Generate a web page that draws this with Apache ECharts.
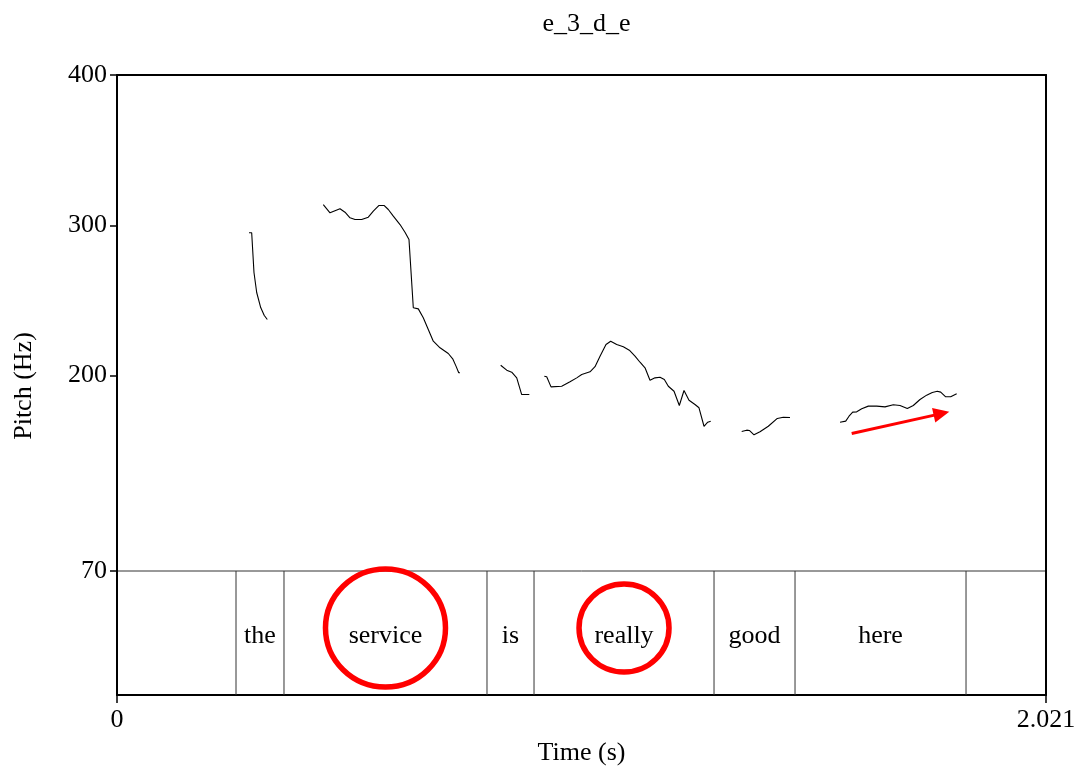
<!DOCTYPE html>
<html>
<head>
<meta charset="utf-8">
<script src="https://cdn.jsdelivr.net/npm/echarts@6/dist/echarts.min.js"></script>
<style>
  html, body { margin: 0; padding: 0; background: #fff; }
  #chart { width: 1080px; height: 771px; }
</style>
</head>
<body>
<div id="chart"></div>
<script>
// ---- data ----
const chartTitle = 'e_3_d_e';
const duration = 2.021;                 // seconds
const timeTicks = [0, 2.021];
const pitchRange = [70, 400];           // Hz
const pitchTicks = [70, 200, 300, 400];

// voiced stretches of the pitch track: [time (s), pitch (Hz)]
const contour1 = [[0.2872, 295.0], [0.2930, 295.0], [0.2980, 268.6], [0.3039, 255.3], [0.3126, 245.3], [0.3204, 240.0], [0.3270, 237.3]];
const contour2 = [[0.4488, 313.8], [0.4634, 308.3], [0.4851, 311.0], [0.4960, 308.7], [0.5069, 305.0], [0.5178, 303.9], [0.5323, 303.9],
  [0.5467, 305.4], [0.5576, 309.4], [0.5700, 313.2], [0.5809, 313.2], [0.5902, 310.5], [0.6011, 306.1], [0.6157, 300.5], [0.6265, 295.4],
  [0.6352, 290.6], [0.6446, 245.1], [0.6555, 244.4], [0.6663, 238.5], [0.6772, 230.7], [0.6881, 222.9], [0.7027, 218.5], [0.7207, 214.7],
  [0.7303, 211.2], [0.7375, 206.3], [0.7434, 201.9], [0.7462, 201.9]];
const contour3 = [[0.8347, 206.9], [0.8478, 203.6], [0.8587, 202.3], [0.8696, 198.5], [0.8804, 187.4], [0.8970, 187.4]];
const contour4 = [[0.9296, 199.6], [0.9348, 199.2], [0.9442, 192.5], [0.9674, 192.9], [0.9855, 195.9], [1.0001, 198.5], [1.0110, 200.7],
  [1.0290, 202.5], [1.0399, 205.9], [1.0508, 212.9], [1.0638, 220.7], [1.0740, 222.9], [1.0871, 220.7], [1.1015, 219.2], [1.1145, 216.9],
  [1.1269, 212.9], [1.1378, 208.9], [1.1487, 205.2], [1.1595, 196.9], [1.1704, 198.5], [1.1813, 198.9], [1.1907, 197.4], [1.1994, 192.9],
  [1.2118, 189.6], [1.2233, 180.1], [1.2335, 190.1], [1.2444, 183.6], [1.2574, 180.8], [1.2661, 178.6], [1.2770, 166.3], [1.2851, 169.0],
  [1.2916, 169.7]];
const contour5 = [[1.3590, 162.8], [1.3699, 163.7], [1.3756, 163.5], [1.3858, 160.6], [1.3988, 162.6], [1.4169, 166.3], [1.4365, 171.5],
  [1.4495, 172.3], [1.4641, 172.1]];
const contour6 = [[1.5729, 169.0], [1.5853, 169.7], [1.5925, 173.0], [1.6005, 175.7], [1.6092, 175.9], [1.6201, 177.9], [1.6345, 179.7],
  [1.6527, 179.7], [1.6708, 179.2], [1.6888, 180.6], [1.7034, 180.1], [1.7193, 178.1], [1.7323, 180.1], [1.7469, 184.1], [1.7614, 187.0],
  [1.7736, 188.8], [1.7845, 189.6], [1.7919, 189.0], [1.8028, 185.9], [1.8137, 185.9], [1.8267, 187.9]];
const contours = [contour1, contour2, contour3, contour4, contour5, contour6];

// word tier
const words = ['', 'the', 'service', 'is', 'really', 'good', 'here', ''];
const wordBounds = [0, 0.2589, 0.3633, 0.8049, 0.9072, 1.2988, 1.4750, 1.8470, 2.021];
const circledWords = ['service', 'really'];

// rising trend marker on the final word: [time, pitch] start and end
const trendArrow = [[1.5983, 161.5], [1.8106, 175.9]];

// ---- drawing ----
const FONT = "'Liberation Serif', 'Times New Roman', serif";
const TEXT = { fontFamily: FONT, fontSize: 26, color: '#000' };
const ringRadii = { service: [60, 59], really: [45, 44] };

const chart = echarts.init(document.getElementById('chart'), null, { renderer: 'canvas' });

const pitchSeries = contours.map(seg => ({
  type: 'line',
  xAxisIndex: 0,
  yAxisIndex: 0,
  data: seg,
  showSymbol: false,
  symbol: 'none',
  smooth: false,
  lineStyle: { color: '#000', width: 1.1 },
  silent: true,
  animation: false,
  z: 3
}));

const tierData = words.map((w, i) => [wordBounds[i], wordBounds[i + 1]]);

const option = {
  animation: false,
  backgroundColor: '#fff',
  title: {
    text: chartTitle,
    left: 581.5,
    top: 6,
    textAlign: 'center',
    textStyle: { fontFamily: FONT, fontSize: 26, fontWeight: 'normal', color: '#000' }
  },
  graphic: [{
    type: 'text',
    x: 24,
    y: 386,
    rotation: Math.PI / 2,
    style: { text: 'Pitch (Hz)', fill: '#000', font: '26px ' + FONT, align: 'center', verticalAlign: 'middle' }
  }],
  grid: [
    { left: 117, width: 929, top: 75, height: 496, show: false },
    { left: 117, width: 929, top: 571, height: 124, show: true, borderColor: '#333', borderWidth: 1, backgroundColor: 'transparent' }
  ],
  xAxis: [
    {
      gridIndex: 0, type: 'value', min: 0, max: duration, position: 'top',
      axisLine: { show: true, onZero: false, lineStyle: { color: '#000', width: 2 } },
      axisTick: { show: false }, axisLabel: { show: false }, splitLine: { show: false }
    },
    {
      gridIndex: 1, type: 'value', min: 0, max: duration, position: 'bottom',
      axisLine: { show: true, onZero: false, lineStyle: { color: '#000', width: 2 } },
      axisTick: { show: true, inside: false, length: 8, customValues: timeTicks, lineStyle: { color: '#000', width: 1.5 } },
      axisLabel: { show: true, customValues: timeTicks, margin: 12, formatter: v => String(v), ...TEXT },
      splitLine: { show: false },
      name: 'Time (s)', nameLocation: 'middle', nameGap: 45, nameTextStyle: TEXT
    }
  ],
  yAxis: [
    {
      gridIndex: 0, type: 'value', min: pitchRange[0], max: pitchRange[1], position: 'left',
      axisLine: { show: true, onZero: false, lineStyle: { color: '#000', width: 2 } },
      axisTick: { show: true, inside: false, length: 7, customValues: pitchTicks, lineStyle: { color: '#000', width: 1.5 } },
      axisLabel: { show: true, customValues: pitchTicks, margin: 10, padding: [6, 0, 0, 0], ...TEXT },
      splitLine: { show: false }
    },
    {
      gridIndex: 0, type: 'value', min: pitchRange[0], max: pitchRange[1], position: 'right',
      axisLine: { show: true, onZero: false, lineStyle: { color: '#000', width: 2 } },
      axisTick: { show: false }, axisLabel: { show: false }, splitLine: { show: false }
    },
    {
      gridIndex: 1, type: 'value', min: 0, max: 1, position: 'left',
      axisLine: { show: true, onZero: false, lineStyle: { color: '#000', width: 2 } },
      axisTick: { show: false }, axisLabel: { show: false }, splitLine: { show: false }
    },
    {
      gridIndex: 1, type: 'value', min: 0, max: 1, position: 'right',
      axisLine: { show: true, onZero: false, lineStyle: { color: '#000', width: 2 } },
      axisTick: { show: false }, axisLabel: { show: false }, splitLine: { show: false }
    }
  ],
  series: [
    ...pitchSeries,
    // word intervals with their boundaries
    {
      type: 'custom',
      xAxisIndex: 1,
      yAxisIndex: 2,
      data: tierData,
      silent: true,
      z: 2,
      renderItem: (params, api) => {
        const start = api.value(0), end = api.value(1);
        const top = api.coord([start, 1]);
        const bottom = api.coord([end, 0]);
        const children = [];
        if (end < duration) {
          const pt = api.coord([end, 1]);
          children.push({
            type: 'line',
            shape: { x1: pt[0], y1: top[1], x2: pt[0], y2: bottom[1] },
            style: { stroke: '#333', lineWidth: 1 }
          });
        }
        const label = words[params.dataIndex];
        if (label) {
          const mid = api.coord([(start + end) / 2, 0.5]);
          children.push({
            type: 'text',
            x: mid[0], y: mid[1] + 3,
            style: { text: label, fill: '#000', font: '26px ' + FONT, align: 'center', verticalAlign: 'middle' }
          });
        }
        return { type: 'group', children };
      }
    },
    // red rings around the emphasised words
    {
      type: 'custom',
      xAxisIndex: 1,
      yAxisIndex: 2,
      data: circledWords.map(w => {
        const i = words.indexOf(w);
        return [(wordBounds[i] + wordBounds[i + 1]) / 2, 0.5];
      }),
      silent: true,
      z: 5,
      renderItem: (params, api) => {
        const c = api.coord([api.value(0), api.value(1)]);
        const r = ringRadii[circledWords[params.dataIndex]];
        return {
          type: 'ellipse',
          shape: { cx: c[0], cy: c[1] - 5, rx: r[0], ry: r[1] },
          style: { fill: 'none', stroke: '#ff0000', lineWidth: 5.5 }
        };
      }
    },
    // red rising-trend arrow
    {
      type: 'custom',
      xAxisIndex: 0,
      yAxisIndex: 0,
      data: [[trendArrow[0][0], trendArrow[0][1], trendArrow[1][0], trendArrow[1][1]]],
      encode: { x: [0, 2], y: [1, 3] },
      silent: true,
      z: 5,
      renderItem: (params, api) => {
        const p0 = api.coord([api.value(0), api.value(1)]);
        const p1 = api.coord([api.value(2), api.value(3)]);
        const dx = p1[0] - p0[0], dy = p1[1] - p0[1];
        const len = Math.sqrt(dx * dx + dy * dy);
        const ux = dx / len, uy = dy / len;
        const headLen = 16, headHalf = 7.5;
        const bx = p1[0] - ux * headLen, by = p1[1] - uy * headLen;
        return {
          type: 'group',
          children: [
            {
              type: 'line',
              shape: { x1: p0[0], y1: p0[1], x2: bx + ux * 2, y2: by + uy * 2 },
              style: { stroke: '#ff0000', lineWidth: 3 }
            },
            {
              type: 'polygon',
              shape: { points: [[p1[0], p1[1]], [bx - uy * headHalf, by + ux * headHalf], [bx + uy * headHalf, by - ux * headHalf]] },
              style: { fill: '#ff0000' }
            }
          ]
        };
      }
    }
  ]
};

chart.setOption(option);
</script>
</body>
</html>
